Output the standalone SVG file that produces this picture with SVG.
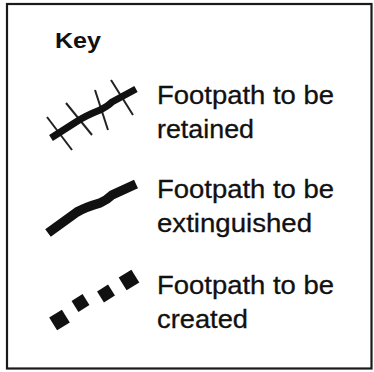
<svg xmlns="http://www.w3.org/2000/svg" width="374" height="372" viewBox="0 0 374 372">
<style>
.t{font-family:"Liberation Sans",Arial,sans-serif;font-size:25px;fill:#111;stroke:#111;stroke-width:0.3}
.k{font-family:"Liberation Sans",Arial,sans-serif;font-size:22px;font-weight:bold;fill:#111}
.thick{fill:none;stroke:#111;stroke-linecap:butt;stroke-linejoin:round}
.tick{stroke:#222;stroke-width:2}
</style>
<rect x="0" y="0" width="374" height="372" fill="#fff"/>
<rect x="7" y="4" width="364.5" height="364.5" fill="#fff" stroke="#1a1a1a" stroke-width="2.2"/>
<g id="title"><text class="k" x="55" y="48" textLength="46" lengthAdjust="spacingAndGlyphs">Key</text></g>
<g id="retained">
<g class="tick">
<line x1="47" y1="117" x2="72" y2="150"/>
<line x1="66" y1="103" x2="92" y2="135"/>
<line x1="95" y1="90" x2="108" y2="130"/>
<line x1="111" y1="80" x2="133" y2="115"/>
</g>
<path class="thick" stroke-width="7" d="M51,138 L76,122 Q85,116 100,110 Q108,106 112,102 L136,89"/>
<text class="t" x="157" y="104" textLength="177" lengthAdjust="spacingAndGlyphs">Footpath to be</text>
<text class="t" x="157" y="138" textLength="97" lengthAdjust="spacingAndGlyphs">retained</text>
</g>
<g id="extinguished">
<path class="thick" stroke-width="9.5" d="M48,233 L77,212 Q86,207 100,203 Q107,200 112,195 L136,184"/>
<text class="t" x="157" y="198" textLength="177" lengthAdjust="spacingAndGlyphs">Footpath to be</text>
<text class="t" x="157" y="232" textLength="155" lengthAdjust="spacingAndGlyphs">extinguished</text>
</g>
<g id="created" fill="#111">
<rect x="-7.5" y="-7.5" width="15" height="15" transform="translate(59.5,320) rotate(-32)"/>
<rect x="-6.5" y="-6.5" width="13" height="13" transform="translate(80.5,303) rotate(-32)"/>
<rect x="-6.5" y="-6.5" width="13" height="13" transform="translate(106,293.5) rotate(-32)"/>
<rect x="-7.5" y="-7.5" width="15" height="15" transform="translate(129,280) rotate(-32)"/>
<text class="t" x="157" y="294" textLength="177" lengthAdjust="spacingAndGlyphs">Footpath to be</text>
<text class="t" x="157" y="328" textLength="91" lengthAdjust="spacingAndGlyphs">created</text>
</g>
</svg>
